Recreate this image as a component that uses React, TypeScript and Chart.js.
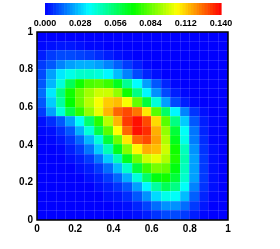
import React, { useEffect, useRef } from "react";
import { Chart, registerables } from "chart.js";

Chart.register(...registerables);

// Cell centres (x left→right, y top→bottom)
const xCells = [0.025, 0.075, 0.125, 0.175, 0.225, 0.275, 0.325, 0.375, 0.425, 0.475, 0.525, 0.575, 0.625, 0.675, 0.725, 0.775, 0.825, 0.875, 0.925, 0.975];
const yCells = [0.975, 0.925, 0.875, 0.825, 0.775, 0.725, 0.675, 0.625, 0.575, 0.525, 0.475, 0.425, 0.375, 0.325, 0.275, 0.225, 0.175, 0.125, 0.075, 0.025];
const cellStep = 0.05;

// Density values, one row per y cell (top row first)
const densityRows = [
  [0, 0, 0, 0, 0, 0, 0, 0, 0, 0, 0, 0, 0, 0, 0, 0, 0, 0, 0, 0],
  [0.001, 0.002, 0.003, 0.003, 0.002, 0.001, 0.001, 0, 0, 0, 0, 0, 0, 0, 0, 0, 0, 0, 0, 0],
  [0.004, 0.008, 0.010, 0.010, 0.009, 0.008, 0.006, 0.004, 0.002, 0.001, 0, 0, 0, 0, 0, 0, 0, 0, 0, 0],
  [0.008, 0.012, 0.018, 0.022, 0.024, 0.024, 0.022, 0.018, 0.013, 0.008, 0.004, 0.001, 0, 0, 0, 0, 0, 0, 0, 0],
  [0.010, 0.022, 0.032, 0.038, 0.042, 0.042, 0.040, 0.034, 0.026, 0.018, 0.010, 0.005, 0.002, 0, 0, 0, 0, 0, 0, 0],
  [0.012, 0.025, 0.040, 0.058, 0.072, 0.080, 0.082, 0.078, 0.066, 0.050, 0.035, 0.022, 0.012, 0.005, 0.001, 0, 0, 0, 0, 0],
  [0.015, 0.032, 0.052, 0.072, 0.084, 0.092, 0.098, 0.098, 0.090, 0.072, 0.052, 0.034, 0.020, 0.010, 0.004, 0.001, 0, 0, 0, 0],
  [0.012, 0.028, 0.048, 0.070, 0.084, 0.095, 0.104, 0.112, 0.114, 0.104, 0.084, 0.062, 0.040, 0.022, 0.010, 0.004, 0.001, 0, 0, 0],
  [0.008, 0.022, 0.040, 0.060, 0.076, 0.090, 0.102, 0.115, 0.126, 0.130, 0.124, 0.108, 0.082, 0.056, 0.034, 0.018, 0.007, 0.002, 0, 0],
  [0.002, 0.006, 0.012, 0.022, 0.036, 0.055, 0.075, 0.095, 0.115, 0.132, 0.138, 0.130, 0.110, 0.082, 0.052, 0.028, 0.012, 0.004, 0.001, 0],
  [0.001, 0.002, 0.006, 0.012, 0.024, 0.040, 0.060, 0.082, 0.105, 0.126, 0.138, 0.134, 0.116, 0.090, 0.062, 0.036, 0.016, 0.005, 0.001, 0],
  [0, 0.001, 0.003, 0.007, 0.014, 0.025, 0.040, 0.062, 0.085, 0.108, 0.126, 0.130, 0.118, 0.094, 0.066, 0.038, 0.017, 0.006, 0.001, 0],
  [0, 0, 0.001, 0.004, 0.008, 0.016, 0.028, 0.045, 0.066, 0.088, 0.106, 0.116, 0.114, 0.098, 0.072, 0.044, 0.020, 0.007, 0.002, 0],
  [0, 0, 0, 0.002, 0.004, 0.008, 0.016, 0.028, 0.045, 0.066, 0.085, 0.098, 0.102, 0.094, 0.074, 0.046, 0.022, 0.008, 0.002, 0],
  [0, 0, 0, 0, 0.002, 0.004, 0.008, 0.015, 0.026, 0.042, 0.062, 0.078, 0.086, 0.084, 0.068, 0.044, 0.022, 0.008, 0.002, 0],
  [0, 0, 0, 0, 0, 0.002, 0.004, 0.008, 0.014, 0.024, 0.040, 0.056, 0.068, 0.072, 0.062, 0.042, 0.022, 0.008, 0.002, 0],
  [0, 0, 0, 0, 0, 0, 0.002, 0.004, 0.007, 0.012, 0.022, 0.034, 0.048, 0.058, 0.052, 0.036, 0.018, 0.007, 0.002, 0],
  [0, 0, 0, 0, 0, 0, 0, 0.002, 0.003, 0.006, 0.012, 0.020, 0.030, 0.038, 0.036, 0.026, 0.013, 0.005, 0.001, 0],
  [0, 0, 0, 0, 0, 0, 0, 0, 0.001, 0.002, 0.005, 0.009, 0.015, 0.020, 0.020, 0.015, 0.008, 0.003, 0, 0],
  [0, 0, 0, 0, 0, 0, 0, 0, 0, 0.001, 0.002, 0.004, 0.007, 0.010, 0.010, 0.008, 0.004, 0.001, 0, 0],
];

const axisTicks = [0, 0.2, 0.4, 0.6, 0.8, 1];
const colorbarTicks = [0, 0.028, 0.056, 0.084, 0.112, 0.14];
const valueMin = 0;
const valueMax = 0.14;

const FONT = "'Liberation Sans', Arial, Helvetica, sans-serif";

const rainbowStops = [
  [0, 0, 255],
  [0, 255, 255],
  [0, 255, 0],
  [255, 255, 0],
  [255, 0, 0],
];

function rainbow(t: number): string {
  const c = Math.max(0, Math.min(1, t));
  const s = c * 4;
  const i = Math.min(3, Math.floor(s));
  const f = s - i;
  const a = rainbowStops[i];
  const b = rainbowStops[i + 1];
  const r = Math.round(a[0] + (b[0] - a[0]) * f);
  const g = Math.round(a[1] + (b[1] - a[1]) * f);
  const bl = Math.round(a[2] + (b[2] - a[2]) * f);
  return `rgb(${r},${g},${bl})`;
}

const heatmapPlugin = {
  id: "heatmapCells",
  beforeDatasetsDraw(chart: any) {
    const ctx = chart.ctx;
    const xs = chart.scales.x;
    const ys = chart.scales.y;
    const pts = chart.data.datasets[0].data as any[];
    const half = cellStep / 2;
    ctx.save();
    for (const p of pts) {
      const x0 = Math.floor(xs.getPixelForValue(p.x - half));
      const x1 = Math.ceil(xs.getPixelForValue(p.x + half));
      const y0 = Math.floor(ys.getPixelForValue(p.y + half));
      const y1 = Math.ceil(ys.getPixelForValue(p.y - half));
      ctx.fillStyle = rainbow((p.v - valueMin) / (valueMax - valueMin));
      ctx.fillRect(x0, y0, x1 - x0, y1 - y0);
    }
    ctx.restore();
  },
  afterDraw(chart: any) {
    const ctx = chart.ctx;
    const a = chart.chartArea;
    ctx.save();
    // frame
    ctx.strokeStyle = "#000";
    ctx.lineWidth = 1.5;
    ctx.strokeRect(a.left, a.top, a.right - a.left, a.bottom - a.top);
    // colour bar
    const barLeft = a.left + 8;
    const barRight = a.right - 7;
    const barTop = 3;
    const barH = 12;
    const n = 64;
    const w = (barRight - barLeft) / n;
    for (let i = 0; i < n; i++) {
      ctx.fillStyle = rainbow((i + 0.5) / n);
      ctx.fillRect(barLeft + i * w, barTop, w + 0.6, barH);
    }
    ctx.fillStyle = "#000";
    ctx.font = `bold 9px ${FONT}`;
    ctx.textAlign = "center";
    ctx.textBaseline = "middle";
    for (const t of colorbarTicks) {
      const x = barLeft + ((t - valueMin) / (valueMax - valueMin)) * (barRight - barLeft);
      ctx.fillText(t.toFixed(3), x, 24);
    }
    ctx.restore();
  },
};

function isMainTick(v: number) {
  return axisTicks.some((t) => Math.abs(t - v) < 1e-6);
}

function tickLabel(v: number) {
  return isMainTick(v) ? String(Math.round(v * 10) / 10) : "";
}

export default function App() {
  const ref = useRef<HTMLCanvasElement | null>(null);

  useEffect(() => {
    if (!ref.current) return;
    const cells: any[] = [];
    yCells.forEach((y, r) => {
      xCells.forEach((x, c) => {
        cells.push({ x, y, v: densityRows[r][c] });
      });
    });

    const axisCommon = {
      type: "linear" as const,
      min: 0,
      max: 1,
      grid: {
        color: "rgba(255,255,255,0.13)",
        lineWidth: 1,
        drawTicks: false,
        z: 1,
      },
      border: { display: false },
      ticks: {
        stepSize: cellStep,
        autoSkip: false,
        maxRotation: 0,
        color: "#000",
        font: { family: FONT, weight: "bold" as const, size: 10 },
        callback: (v: any) => tickLabel(Number(v)),
      },
    };

    const chart = new Chart(ref.current, {
      type: "scatter",
      data: {
        datasets: [
          {
            data: cells,
            pointRadius: 0,
            pointHoverRadius: 0,
            showLine: false,
          },
        ],
      },
      plugins: [heatmapPlugin],
      options: {
        animation: false,
        responsive: false,
        events: [],
        layout: { padding: { left: 0, right: 52, top: 32, bottom: 0 } },
        plugins: { legend: { display: false }, tooltip: { enabled: false } },
        scales: {
          x: {
            ...axisCommon,
            position: "bottom",
            ticks: { ...axisCommon.ticks, padding: 3 },
            afterFit: (s: any) => {
              s.height = 29;
            },
          },
          y: {
            ...axisCommon,
            position: "left",
            ticks: { ...axisCommon.ticks, padding: 4 },
            afterFit: (s: any) => {
              s.width = 37;
            },
          },
        },
      },
    } as any);
    return () => chart.destroy();
  }, []);

  return (
    <div style={{ position: "fixed", left: 0, top: 0, width: 280, height: 249, background: "#fff" }}>
      <canvas ref={ref} width={280} height={249} style={{ width: 280, height: 249, display: "block" }} />
    </div>
  );
}
